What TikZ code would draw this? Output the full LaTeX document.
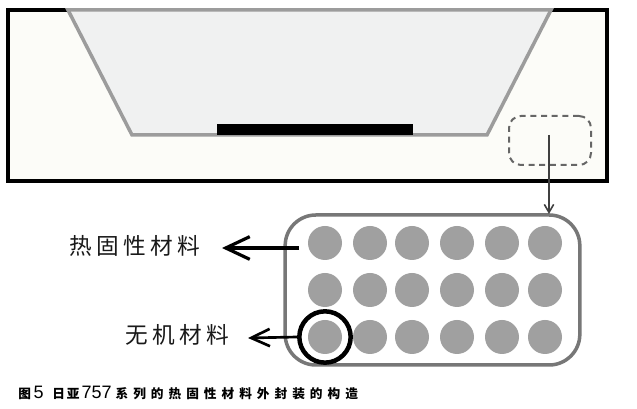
\documentclass[tikz,border=0pt]{standalone}
\usepackage{fontspec}
\setmainfont{Liberation Sans}
\newfontfamily\cjklabel[LetterSpace=19]{Noto Sans CJK SC}
\newfontfamily\cjkcap{Noto Sans CJK SC}
\usetikzlibrary{arrows.meta}
\definecolor{pkg}{HTML}{FCFCF8}
\definecolor{lens}{HTML}{F0F1F1}
\definecolor{lensline}{HTML}{9C9C9C}
\definecolor{dot}{HTML}{A0A0A0}
\definecolor{roundline}{HTML}{777777}
\tikzset{
  x=0.75pt,y=-0.75pt,
  px/.style={line width=#1*0.75pt},
  particle/.style={circle,fill=dot,minimum size=25.5pt,inner sep=0pt,draw=none},
  bigbarb/.style={-{Straight Barb[length=18pt,width=17pt,line width=2.4pt]},line width=2.4pt,black},
  smallbarb/.style={-{Straight Barb[length=14pt,width=13pt,line width=2pt]},line width=2pt,black},
  labeltext/.style={inner sep=0pt,font=\fontsize{17}{18}\cjklabel,text=black!90},
}
\newcommand{\capdigits}[1]{{\fontsize{13.5}{14}\selectfont\normalfont #1}}
\newcommand{\gp}{\kern3.75pt}
\begin{document}
\begin{tikzpicture}
\useasboundingbox (0,0) rectangle (637,409);
\fill[white] (0,0) rectangle (637,409);
% package
\draw[px=3.5,black,fill=pkg] (8,10) rectangle (607,181);
% lens
\draw[px=3.5,lensline,fill=lens,line join=miter] (68,10) -- (551,10) -- (487,135) -- (132,135) -- cycle;
\fill[black] (217,124) rectangle (413,135.5);
% dashed area
\node[draw=black!60,px=2,dash pattern=on 4.5pt off 3.5pt,rounded corners=9pt,minimum width=61.5pt,minimum height=36.75pt,inner sep=0pt] (zone) at (550,140.5) {};
\coordinate (zonestart) at (549,135);
% enlarged view
\node[draw=roundline,px=3.5,rounded corners=23pt,minimum width=221pt,minimum height=112.5pt,inner sep=0pt] (view) at (432.5,290) {};
\coordinate (viewtop) at (549,214);
\draw[-{Straight Barb[length=6pt,width=7pt,line width=1.2pt]},line width=1.3pt,black!75] (zonestart) -- (viewtop);
% particles
\foreach \r/\yy in {a/243,b/290,c/337}{
  \foreach \c/\xx in {1/325,2/370,3/412,4/457,5/502,6/545}{
    \node[particle] (p\r\c) at (\xx,\yy) {};
  }
}
% highlight ring
\node[circle,draw=black,px=4.5,minimum size=38.5pt,inner sep=0pt] (ring) at (325,337) {};
% labels
\node[labeltext,anchor=center] (resin) at (135,246) {热固性材料};
\node[labeltext,anchor=center] (filler) at (177,335) {无机材料};
\coordinate (resinstart) at (299,248);
\coordinate (resintip) at (222,248);
\coordinate (fillertip) at (248,338);
\draw[bigbarb] (resinstart) -- (resintip);
\draw[smallbarb] (ring.west) -- (fillertip);
% caption
\node[anchor=west,inner sep=0pt,font=\fontsize{9.5}{10}\cjkcap\bfseries] (caption) at (18,393) {图\kern2pt\capdigits{5}\kern6.5pt 日\kern1.5pt 亚\kern1.5pt\capdigits{757}\kern3pt 系\gp 列\gp 的\gp 热\gp 固\gp 性\gp 材\gp 料\gp 外\gp 封\gp 装\gp 的\gp 构\gp 造};
\end{tikzpicture}
\end{document}
